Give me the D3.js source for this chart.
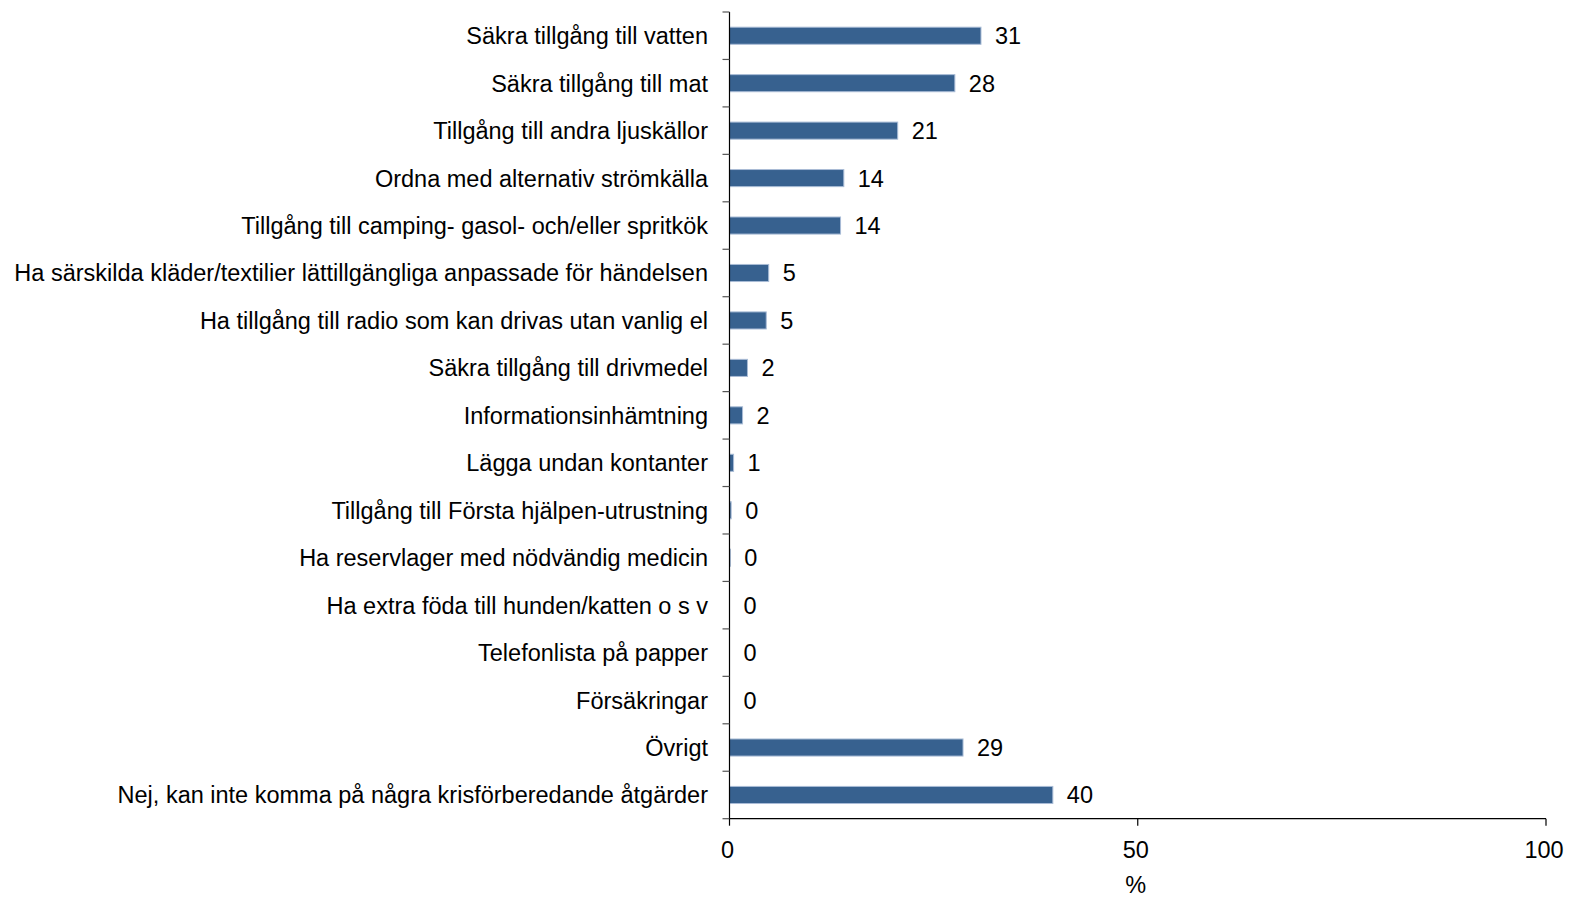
<!DOCTYPE html>
<html>
<head>
<meta charset="utf-8">
<script src="https://cdn.jsdelivr.net/npm/d3@7"></script>
<style>
  html, body { margin: 0; padding: 0; background: #fff; }
  svg { display: block; }
  text { font-family: Arial, "Liberation Sans", sans-serif; fill: #000; }
</style>
</head>
<body>
<svg id="chart" width="1572" height="897"></svg>
<script>
const categories = [
  "Säkra tillgång till vatten",
  "Säkra tillgång till mat",
  "Tillgång till andra ljuskällor",
  "Ordna med alternativ strömkälla",
  "Tillgång till camping- gasol- och/eller spritkök",
  "Ha särskilda kläder/textilier lättillgängliga anpassade för händelsen",
  "Ha tillgång till radio som kan drivas utan vanlig el",
  "Säkra tillgång till drivmedel",
  "Informationsinhämtning",
  "Lägga undan kontanter",
  "Tillgång till Första hjälpen-utrustning",
  "Ha reservlager med nödvändig medicin",
  "Ha extra föda till hunden/katten o s v",
  "Telefonlista på papper",
  "Försäkringar",
  "Övrigt",
  "Nej, kan inte komma på några krisförberedande åtgärder"
];
const values = [30.8, 27.6, 20.6, 14.0, 13.6, 4.8, 4.5, 2.2, 1.6, 0.5, 0.2, 0.1, 0, 0, 0, 28.6, 39.6];
const xTicks = [0, 50, 100];
const xAxisTitle = "%";

const svg = d3.select("#chart");
const x = d3.scaleLinear().domain([0, 100]).range([729.5, 1546]);
const y = d3.scaleBand().domain(categories).range([12, 818.7]).paddingInner(0.64).paddingOuter(0.32);
const step = y.step();
const [y0, y1] = y.range();

const fontSize = 23.5;

// bars
svg.selectAll("rect.bar").data(values).join("rect")
  .attr("class", "bar")
  .attr("x", x(0))
  .attr("y", (d, i) => y(categories[i]))
  .attr("width", d => Math.max(0, x(d) - x(0)))
  .attr("height", y.bandwidth())
  .attr("fill", "#37618f")
  .attr("stroke", d => d > 0 ? "#a9bcd6" : "none")
  .attr("stroke-width", 1);

// value labels
svg.selectAll("text.val").data(values).join("text")
  .attr("class", "val")
  .attr("x", d => x(d) + 14)
  .attr("y", (d, i) => y(categories[i]) + y.bandwidth() / 2)
  .attr("dy", "0.36em")
  .attr("font-size", fontSize)
  .text(d => Math.round(d));

// category labels
svg.selectAll("text.cat").data(categories).join("text")
  .attr("class", "cat")
  .attr("x", 708)
  .attr("y", d => y(d) + y.bandwidth() / 2)
  .attr("dy", "0.36em")
  .attr("text-anchor", "end")
  .attr("font-size", fontSize)
  .text(d => d);

// y axis line and ticks at category boundaries
svg.append("line")
  .attr("x1", x(0)).attr("x2", x(0))
  .attr("y1", y0).attr("y2", y1)
  .attr("stroke", "#000").attr("stroke-width", 1.2);
const bounds = d3.range(categories.length + 1).map(i => y0 + i * step);
svg.selectAll("line.ytick").data(bounds).join("line")
  .attr("class", "ytick")
  .attr("x1", x(0) - 7).attr("x2", x(0))
  .attr("y1", d => d).attr("y2", d => d)
  .attr("stroke", "#555").attr("stroke-width", 1.2);

// x axis
svg.append("line")
  .attr("x1", x(0)).attr("x2", x(100))
  .attr("y1", y1).attr("y2", y1)
  .attr("stroke", "#000").attr("stroke-width", 1.2);
svg.selectAll("line.xtick").data(xTicks).join("line")
  .attr("class", "xtick")
  .attr("x1", d => x(d)).attr("x2", d => x(d))
  .attr("y1", y1).attr("y2", y1 + 7)
  .attr("stroke", "#000").attr("stroke-width", 1.2);
svg.selectAll("text.xlab").data(xTicks).join("text")
  .attr("class", "xlab")
  .attr("x", d => x(d) - 2)
  .attr("y", 858)
  .attr("text-anchor", "middle")
  .attr("font-size", fontSize)
  .text(d => d);
svg.append("text")
  .attr("x", x(50) - 2)
  .attr("y", 893)
  .attr("text-anchor", "middle")
  .attr("font-size", fontSize)
  .text(xAxisTitle);
</script>
</body>
</html>
